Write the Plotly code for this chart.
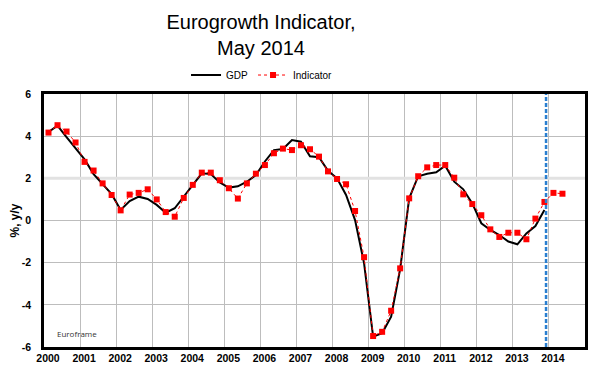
import plotly.graph_objects as go

# ---- data ----
years = list(range(2000, 2015))
quarters = [f"{y}Q{q}" for y in range(2000, 2015) for q in range(1, 5)]

gdp = [4.2, 4.5, 3.95, 3.4,
       2.9, 2.2, 1.7, 1.25,
       0.5, 0.92, 1.13, 1.02,
       0.74, 0.37, 0.58, 1.13,
       1.73, 2.24, 2.2, 1.8,
       1.56, 1.62, 1.84, 2.16,
       2.8, 3.34, 3.39, 3.82,
       3.74, 3.05, 3.0, 2.36,
       2.0, 1.21, 0.02, -2.03,
       -5.51, -5.35, -4.56, -2.3,
       1.05, 2.1, 2.22, 2.29,
       2.6, 1.84, 1.48, 0.81,
       -0.13, -0.45, -0.69, -1.0,
       -1.13, -0.61, -0.26, 0.5]

indicator = [4.17, 4.52, 4.22, 3.70,
             2.78, 2.37, 1.76, 1.21,
             0.48, 1.23, 1.31, 1.48,
             1.00, 0.40, 0.18, 1.07,
             1.69, 2.27, 2.27, 1.91,
             1.53, 1.04, 1.76, 2.22,
             2.63, 3.19, 3.41, 3.34,
             3.57, 3.38, 3.03, 2.33,
             1.97, 1.72, 0.45, -1.74,
             -5.48, -5.28, -4.28, -2.27,
             1.05, 2.10, 2.52, 2.63,
             2.63, 2.03, 1.24, 0.78,
             0.25, -0.42, -0.78, -0.58,
             -0.58, -0.89, 0.09, 0.88,
             1.31, 1.27]

ytick_vals = [-6, -4, -2, 0, 2, 4, 6]
ytick_text = ["-6", "-4", "-2", "0", "2", "4", "6"]
xtick_text = [str(y) for y in years]
cutoff = 2013.92


def qpos(label):
    y, q = label.split("Q")
    return int(y) + (int(q) - 0.5) / 4


x_gdp = [qpos(q) for q in quarters[:len(gdp)]]
x_ind = [qpos(q) for q in quarters[:len(indicator)]]

tickfont = dict(family="Liberation Sans, Arial", size=10.5, color="black", weight="bold")

fig = go.Figure()
fig.add_trace(go.Scatter(x=x_gdp, y=gdp, mode="lines", name="GDP",
                         line=dict(color="black", width=2)))
fig.add_trace(go.Scatter(x=x_ind, y=indicator, mode="lines+markers", name="Indicator",
                         line=dict(color="#ff0000", width=1, dash="dot"),
                         marker=dict(symbol="square", size=6, color="#ff0000")))

fig.add_shape(type="line", xref="x", yref="y", x0=2000, x1=2015, y0=2, y1=2,
              line=dict(color="#e2e2e2", width=3), layer="between")
fig.add_shape(type="line", xref="x", yref="y", x0=cutoff, x1=cutoff, y0=-6, y1=6,
              line=dict(color="#2a7fd0", width=2.5, dash="4px,2px"), layer="above")

fig.add_annotation(text="Euroframe", xref="paper", yref="paper", x=0.02, y=0.055,
                   xanchor="left", yanchor="middle", showarrow=False,
                   font=dict(family="Open Sans, Noto Sans", size=8, color="#333333"))

fig.update_layout(
    width=600, height=370,
    margin=dict(l=44, r=15, t=94, b=23, autoexpand=False),
    paper_bgcolor="white", plot_bgcolor="white",
    title=dict(text="Eurogrowth Indicator,<br>May 2014", x=0.435, xanchor="center",
               y=0.921, yanchor="middle", yref="container",
               font=dict(family="Liberation Sans, Arial", size=20, color="black")),
    legend=dict(orientation="h", x=0.403, xanchor="center", y=1.075, yanchor="middle",
                font=dict(family="Liberation Sans, Arial", size=10, color="black"),
                itemwidth=30, bgcolor="rgba(0,0,0,0)"),
    showlegend=True,
)
fig.update_xaxes(range=[2000, 2015], tickvals=years, ticktext=xtick_text,
                 showgrid=True, gridcolor="#bdbdbd", gridwidth=1,
                 showline=True, linecolor="black", linewidth=2.5, mirror=True,
                 ticks="", tickfont=tickfont, zeroline=False, ticklabelshift=4)
fig.update_yaxes(range=[-6, 6], tickvals=ytick_vals, ticktext=ytick_text,
                 showgrid=True, gridcolor="#bdbdbd", gridwidth=1,
                 showline=True, linecolor="black", linewidth=2.5, mirror=True,
                 ticks="", tickfont=tickfont, zeroline=False, ticklabelstandoff=8,
                 title=dict(text="%, y/y", standoff=0,
                            font=dict(family="Liberation Sans, Arial", size=12,
                                      color="black", weight="bold")))

fig.write_html("out.html", config={"displayModeBar": False},
               post_script="document.body.style.margin='0';")
